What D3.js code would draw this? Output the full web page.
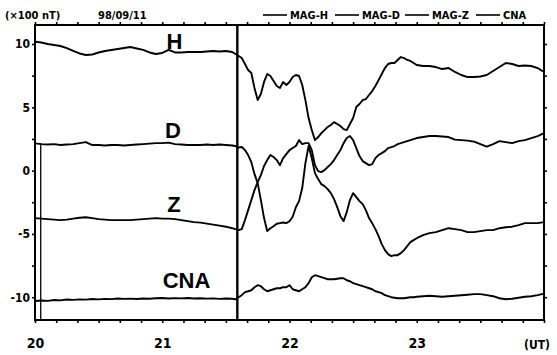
<!DOCTYPE html>
<html><head><meta charset="utf-8">
<script src="https://cdn.jsdelivr.net/npm/d3@7"></script>
<style>
html,body{margin:0;padding:0;background:#fff;}
svg{display:block;}
text{font-family:"DejaVu Sans Condensed","Liberation Sans Narrow",sans-serif;font-weight:bold;fill:#000;}
</style></head>
<body>
<svg id="c" width="557" height="355"></svg>
<script>
// ---- data (UT hours, values in x100 nT / offset units) ----
const times = [
20.00,20.05,20.10,20.15,20.20,20.25,20.30,20.35,20.40,20.45,20.50,20.55,20.60,20.65,20.70,20.75,20.80,20.85,20.90,20.95,
21.00,21.05,21.10,21.15,21.20,21.25,21.30,21.35,21.40,21.45,21.50,21.55,
21.575,21.600,21.625,21.650,21.675,21.700,21.725,21.750,21.775,21.800,21.825,21.850,21.875,21.900,21.925,21.950,21.975,
22.000,22.025,22.050,22.075,22.100,22.125,22.150,22.175,22.200,22.225,22.250,22.275,22.300,22.325,22.350,22.375,22.400,
22.425,22.450,22.475,22.500,22.525,22.550,22.575,22.600,22.625,22.650,22.675,22.700,22.725,22.750,22.775,22.800,22.825,
22.850,22.875,22.900,22.925,22.950,22.975,23.000,
23.05,23.10,23.15,23.20,23.25,23.30,23.35,23.40,23.45,23.50,23.55,23.60,23.65,23.70,23.75,23.80,23.85,23.90,23.95,24.00];

const magH = [
10.18,10.12,10.0,9.92,9.84,9.68,9.45,9.25,9.13,9.17,9.33,9.45,9.53,9.6,9.68,9.76,9.64,9.53,9.33,9.21,
9.29,9.53,9.33,9.33,9.37,9.37,9.37,9.41,9.45,9.41,9.45,9.37,
9.21,9.05,8.89,8.42,7.94,7.71,6.52,5.57,6.05,7.0,7.63,7.47,7.08,6.68,6.52,7.0,6.76,
7.0,7.39,7.55,7.47,6.76,5.57,4.15,3.2,2.41,2.65,2.96,3.2,3.44,3.6,3.83,3.68,3.52,
3.28,3.2,3.68,4.15,5.02,5.26,5.57,5.65,5.97,6.28,6.68,7.15,7.63,8.1,8.42,8.5,8.5,
8.74,8.97,8.89,8.74,8.66,8.5,8.34,
8.26,8.26,8.18,8.02,8.1,7.79,7.55,7.39,7.39,7.43,7.55,7.87,8.18,8.5,8.42,8.26,8.3,8.26,8.1,7.79];

const magD = [
2.15,2.09,2.06,2.09,2.02,2.06,2.09,2.17,2.25,2.02,2.02,1.98,2.02,2.02,1.98,2.02,2.06,2.09,2.13,2.17,
2.17,2.21,2.09,2.06,2.02,2.02,2.02,2.06,2.02,2.06,2.02,1.98,
1.94,1.82,1.86,1.62,1.23,0.67,-0.28,-0.99,-2.33,-3.75,-4.78,-4.55,-4.4,-4.2,-4.15,-4.1,-4.15,
-4.0,-3.65,-2.89,-2.41,-1.38,0.59,1.94,0.99,-0.2,-0.67,-1.07,-1.23,-1.46,-1.78,-2.25,-2.89,-3.6,
-3.99,-3.28,-2.33,-1.78,-2.09,-2.41,-2.65,-3.12,-3.75,-4.15,-4.62,-5.18,-5.81,-6.28,-6.6,-6.76,-6.68,
-6.68,-6.52,-6.28,-5.97,-5.65,-5.49,-5.34,
-5.1,-4.94,-4.86,-4.7,-4.55,-4.62,-4.7,-4.86,-4.86,-4.78,-4.7,-4.7,-4.55,-4.47,-4.43,-4.31,-4.15,-4.15,-4.15,-4.07];

const magZ = [
-3.75,-3.79,-3.83,-3.87,-3.91,-3.87,-3.79,-3.72,-3.68,-3.75,-3.83,-3.87,-3.91,-3.91,-3.91,-3.91,-3.87,-3.83,-3.79,-3.75,
-3.79,-3.79,-3.83,-3.91,-3.99,-4.07,-4.11,-4.19,-4.27,-4.35,-4.43,-4.55,
-4.62,-4.7,-4.62,-3.91,-3.12,-2.33,-1.54,-0.91,-0.36,0.36,0.83,1.23,1.07,0.83,0.43,0.99,1.3,
1.62,1.78,1.94,2.41,2.09,2.17,2.17,1.62,0.43,-0.04,-0.12,0.04,0.28,0.51,0.83,1.23,1.62,
2.17,2.57,2.73,2.41,1.78,1.15,0.75,0.59,0.43,0.51,0.99,1.23,1.38,1.54,1.78,1.86,1.94,
2.09,2.17,2.25,2.33,2.41,2.49,2.57,
2.65,2.73,2.73,2.69,2.65,2.45,2.41,2.37,2.29,2.09,1.9,2.09,2.33,2.25,2.17,2.33,2.41,2.57,2.73,2.96];

const cna = [
-10.3,-10.26,-10.29,-10.22,-10.25,-10.18,-10.21,-10.17,-10.19,-10.14,-10.17,-10.13,-10.15,-10.1,-10.13,-10.11,-10.14,-10.1,-10.12,-10.08,
-10.06,-10.1,-10.07,-10.09,-10.06,-10.1,-10.08,-10.11,-10.09,-10.13,-10.1,-10.12,
-10.16,-10.0,-9.84,-9.6,-9.53,-9.45,-9.21,-9.05,-9.13,-9.37,-9.53,-9.45,-9.37,-9.29,-9.29,-9.21,-9.21,
-9.05,-9.37,-9.45,-9.53,-9.37,-9.21,-8.89,-8.42,-8.26,-8.34,-8.42,-8.5,-8.58,-8.58,-8.58,-8.54,-8.5,
-8.5,-8.66,-8.74,-8.89,-8.97,-9.05,-9.13,-9.21,-9.29,-9.37,-9.53,-9.6,-9.68,-9.84,-9.92,-10.0,-10.04,
-10.08,-10.08,-10.08,-10.04,-10.0,-10.0,-9.96,
-9.92,-9.88,-9.92,-9.96,-9.92,-9.88,-9.84,-9.8,-9.76,-9.76,-9.84,-9.92,-10.08,-10.16,-10.12,-10.04,-9.96,-9.92,-9.84,-9.72];

const seriesNames = ["MAG-H","MAG-D","MAG-Z","CNA"];
const panelLabels = ["H","D","Z","CNA"];
const xTickLabels = ["20","21","22","23"];
const yTickLabels = ["-10","-5","0","5","10"];
const eventTime = 21.59;
const unitLabel = "(×100 nT)";
const dateLabel = "98/09/11";

// ---- drawing ----
const svg = d3.select("#c");
const L = 35, R = 544, T = 25, B = 320;
const x = d3.scaleLinear().domain([20, 24]).range([L, R]);
const y = d3.scaleLinear().domain([-11.8, 11.5]).range([B, T]);

const xTicks = d3.range(0, 25).map(i => 20 + i / 6);
const yTicks = d3.range(-10, 10.01, 2.5);

function styleAxis(g){
  g.select(".domain").remove();
  g.selectAll(".tick line").attr("stroke","#000").attr("stroke-width",1.6);
  g.selectAll(".tick text").attr("fill","#000");
}

svg.append("g").attr("transform",`translate(0,${B})`)
  .call(d3.axisBottom(x).tickValues(xTicks).tickSize(3).tickFormat(d => {
    const h = Math.round(d*6)/6;
    const idx = xTickLabels.indexOf(String(Math.round(d)));
    return (Math.abs(d - Math.round(d)) < 1e-6 && idx >= 0) ? xTickLabels[idx] : "";
  }).tickPadding(15))
  .call(styleAxis)
  .call(g => g.selectAll(".tick text").style("font-size","14px"));

svg.append("g").attr("transform",`translate(0,${T})`)
  .call(d3.axisTop(x).tickValues(xTicks).tickSize(3).tickFormat(""))
  .call(styleAxis);

svg.append("g").attr("transform",`translate(${L},0)`)
  .call(d3.axisLeft(y).tickValues(yTicks).tickSize(3).tickPadding(2).tickFormat(d => {
    const idx = yTickLabels.indexOf(String(d));
    return idx >= 0 ? yTickLabels[idx] : "";
  }))
  .call(styleAxis)
  .call(g => g.selectAll(".tick text").style("font-size","12px"));

svg.append("g").attr("transform",`translate(${R},0)`)
  .call(d3.axisRight(y).tickValues(yTicks).tickSize(3).tickFormat(""))
  .call(styleAxis);

svg.append("text").attr("x", 550).attr("y", 349).attr("text-anchor","end")
  .style("font-size","12px").text("(UT)");

// frame
svg.append("rect").attr("x",L).attr("y",T).attr("width",R-L).attr("height",B-T)
  .attr("fill","none").attr("stroke","#000").attr("stroke-width",2);

// series
const series = [magH, magD, magZ, cna];
const line = d3.line().x(d => x(d[0])).y(d => y(d[1]));
series.forEach(vals => {
  svg.append("path").datum(times.map((t,i) => [t, vals[i]]))
    .attr("d", line).attr("fill","none").attr("stroke","#000")
    .attr("stroke-width",1.9).attr("stroke-linejoin","round");
});

// left start artifact line
svg.append("line").attr("x1",x(20.045)).attr("x2",x(20.045))
  .attr("y1",y(magD[0])).attr("y2",B).attr("stroke","#000").attr("stroke-width",1.3);

// event line
svg.append("line").attr("x1",x(eventTime)).attr("x2",x(eventTime))
  .attr("y1",T).attr("y2",B).attr("stroke","#000").attr("stroke-width",2.4);

// panel labels
const labPos = [[174.5,49],[173,138],[174,211.5],[186.5,288]];
panelLabels.forEach((s,i) => {
  svg.append("text").attr("x",labPos[i][0]).attr("y",labPos[i][1])
    .attr("text-anchor","middle")
    .style("font-family","'Liberation Sans',Arial,sans-serif")
    .style("font-size","22px").text(s);
});

// header texts
svg.append("text").attr("x",5).attr("y",19).style("font-size","11px").text(unitLabel);
svg.append("text").attr("x",98).attr("y",19).style("font-size","11px").text(dateLabel);

// legend
const legX = [263, 335, 405, 476];
seriesNames.forEach((s,i) => {
  svg.append("line").attr("x1",legX[i]).attr("x2",legX[i]+24).attr("y1",15).attr("y2",15)
    .attr("stroke","#000").attr("stroke-width",1.6);
  svg.append("text").attr("x",legX[i]+27).attr("y",19).style("font-size","11px").text(s);
});
</script>
</body></html>
